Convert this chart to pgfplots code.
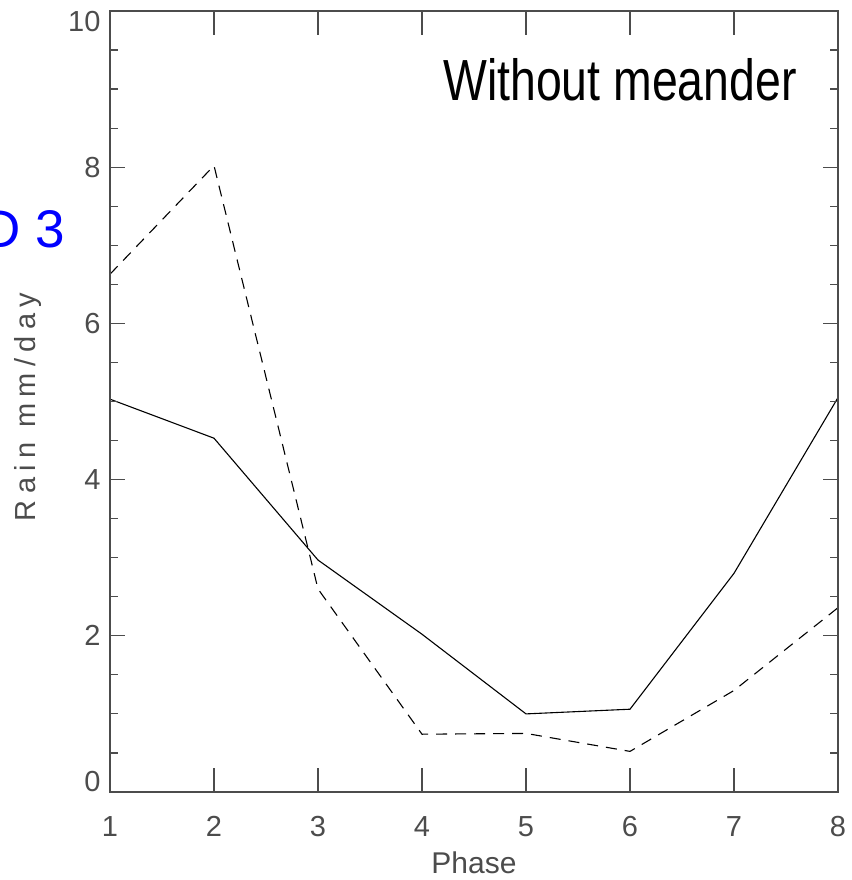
\documentclass[border=0pt]{standalone}
\usepackage{pgfplots}
\pgfplotsset{compat=1.18}
\usepackage{fontspec}
\setmainfont{Liberation Sans}
\newfontfamily\lblfont[LetterSpace=22]{Liberation Sans}
\definecolor{axgray}{gray}{0.3}
\pgfplotstableread{
x y
1 5.03
2 4.53
3 2.97
4 2.02
5 1.00
6 1.06
7 2.80
8 5.05
}\solid
\pgfplotstableread{
x y
1 6.63
2 8.02
3 2.60
4 0.74
5 0.75
6 0.52
7 1.30
8 2.36
}\dashed
\begin{document}
\begin{tikzpicture}
\path[use as bounding box] (-110pt,-88pt) rectangle (741pt,792pt);
\begin{axis}[
  at={(0pt,0pt)}, anchor=south west,
  scale only axis, width=728pt, height=781pt,
  xmin=1, xmax=8, ymin=0, ymax=10,
  axis line style={axgray, line width=1.6pt},
  xtick={1,...,8}, ytick=\empty,
  extra y ticks={10},
  extra y tick style={yticklabel style={font=\fontsize{29}{31}\selectfont, text=axgray, xshift=-6pt, yshift=-11pt}},
  tick align=inside, major tick length=24pt,
  xtick style={axgray, line width=1.2pt},
  ytick style={axgray, line width=1.2pt},
  /pgf/number format/assume math mode=true,
  xticklabel style={font=\fontsize{29}{31}\selectfont, text=axgray, yshift=-21pt},
  xlabel={Phase},
  xlabel style={font=\fontsize{30}{32}\selectfont, text=axgray, at={(axis description cs:0.5,0)}, anchor=base, yshift=-81pt},
]
\addplot[black, line width=1.1pt] table[x=x,y=y] {\solid};
\addplot[black, line width=1.1pt, dash pattern=on 11pt off 8pt] table[x=x,y=y] {\dashed};
\end{axis}
\begin{axis}[
  at={(0pt,0pt)}, anchor=south west,
  scale only axis, width=728pt, height=781pt,
  xmin=1, xmax=8, ymin=0, ymax=10,
  axis line style={axgray, line width=1.6pt},
  xtick=\empty, ytick={2,4,6,8},
  minor ytick={0.5,1,1.5,2.5,3,3.5,4.5,5,5.5,6.5,7,7.5,8.5,9,9.5},
  extra y ticks={0},
  extra y tick style={yticklabel style={yshift=10pt}},
  tick align=inside, major tick length=15pt, minor tick length=8pt,
  ytick style={axgray, line width=1.2pt},
  /pgf/number format/assume math mode=true,
  yticklabel style={font=\fontsize{29}{31}\selectfont, text=axgray, xshift=-6pt},
  ylabel={Rain mm/day},
  ylabel style={font=\lblfont\fontsize{29}{31}\selectfont, text=axgray, at={(axis description cs:-0.102,0.493)}, anchor=base},
]
\end{axis}
\node[anchor=base, font=\fontsize{58}{60}\selectfont, xscale=0.8] at (510pt,691pt) {Without meander};
\node[anchor=base east, font=\fontsize{53}{55}\selectfont, text=blue] at (-41pt,544pt) {D 3};
\end{tikzpicture}
\end{document}
